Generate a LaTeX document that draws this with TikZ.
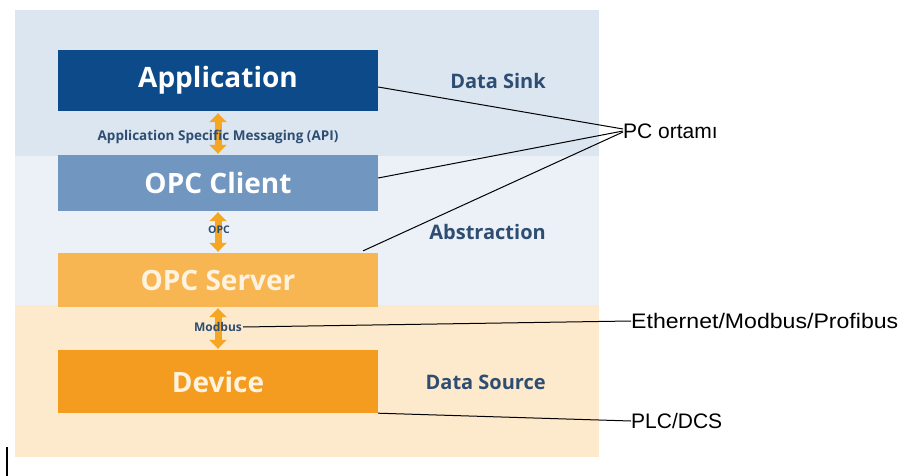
\documentclass[tikz,border=0pt]{standalone}
\usepackage{fontspec}
\setmainfont{Open Sans}
\newfontfamily\arialf{Liberation Sans}
\usetikzlibrary{arrows.meta}
\definecolor{bandtop}{HTML}{DCE6F0}
\definecolor{bandmid}{HTML}{ECF1F7}
\definecolor{bandbot}{HTML}{FDE9CC}
\definecolor{appc}{HTML}{0C4A8A}
\definecolor{clientc}{HTML}{7197C0}
\definecolor{serverc}{HTML}{F8B652}
\definecolor{devicec}{HTML}{F39C1F}
\definecolor{arrc}{HTML}{F5A623}
\definecolor{labc}{HTML}{2E4D73}
\definecolor{creamc}{HTML}{FFF3DF}
\tikzset{
  layerbox/.style={minimum width=320pt, inner sep=0pt, font=\bfseries\fontsize{28}{30}\selectfont},
  sidelabel/.style={anchor=east, inner sep=0pt, text=labc, font=\bfseries\fontsize{20}{22}\selectfont},
  protolabel/.style={inner sep=1pt, text=labc, font=\bfseries\fontsize{#1}{#1}\selectfont},
  notelabel/.style={anchor=west, inner sep=0pt, font=\arialf\fontsize{21}{23}\selectfont},
  arr/.style={draw=arrc, line width=7pt, {Triangle[width=17pt,length=9pt]}-{Triangle[width=17pt,length=9pt]}},
  conn/.style={draw=black, line width=1pt}
}
\begin{document}
\begin{tikzpicture}[x=1pt,y=-1pt]
\useasboundingbox[fill=white] (0,0) rectangle (922,476);
% background bands
\fill[bandtop] (15,10) rectangle (599,156);
\fill[bandmid] (15,156) rectangle (599,305);
\fill[bandbot] (15,305) rectangle (599,457);
% layer boxes
\node[layerbox, fill=appc, text=white, minimum height=61pt] (app) at (218,80.5) {Application};
\node[layerbox, fill=clientc, text=white, minimum height=56pt] (client) at (218,183) {OPC Client};
\node[layerbox, fill=serverc, text=creamc, minimum height=54pt] (server) at (218,280) {OPC Server};
\node[layerbox, fill=devicec, text=creamc, minimum height=63pt] (device) at (218,381.5) {Device};
% arrows
\draw[arr, shorten <=2pt, shorten >=1pt] (app.south) -- (client.north);
\draw[arr, shorten <=1pt, shorten >=1pt] (client.south) -- (server.north);
\draw[arr, shorten <=1pt, shorten >=1pt] (server.south) -- (device.north);
% protocol labels
\node[protolabel=13.5] (api) at (218,137) {Application Specific Messaging (API)};
\node[protolabel=10.5] (opc) at (219,230) {OPC};
\node[protolabel=12] (modbus) at (218,327) {Modbus};
% side labels
\node[sidelabel] (sink) at (546,81) {Data Sink};
\node[sidelabel] (abs) at (546,232) {Abstraction};
\node[sidelabel] (source) at (546,382) {Data Source};
% notes
\node[notelabel] (pc) at (623,131) {PC ortamı};
\node[notelabel] (eth) at (631,321) {\scalebox{1.1}[1]{Ethernet/Modbus/Profibus}};
\node[notelabel] (plc) at (631,421) {PLC/DCS};
% connectors
\draw[conn] ([yshift=-6.5pt]app.east) -- ([yshift=2pt]pc.west);
\draw[conn] ([yshift=5pt]client.east) -- (pc.west);
\draw[conn] ([xshift=-15pt,yshift=2pt]server.north east) -- ([yshift=-1pt]pc.west);
\draw[conn] (modbus.east) -- (eth.west);
\draw[conn] (device.south east) -- (plc.west);
% small vertical mark
\coordinate (m1) at (7,447);
\coordinate (m2) at (7,476);
\draw[black, line width=1.5pt] (m1) -- (m2);
\end{tikzpicture}
\end{document}
